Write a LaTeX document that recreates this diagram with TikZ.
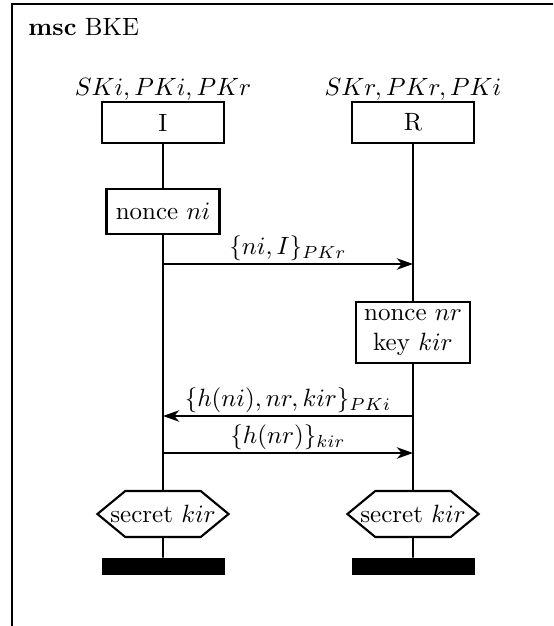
\documentclass[tikz,border=0pt]{standalone}
\usetikzlibrary{arrows.meta,shapes.symbols}
\tikzset{
  inst/.style={draw,line width=0.85pt,minimum width=48.8pt,minimum height=16.2pt,inner sep=0pt},
  action/.style={draw,line width=0.85pt,inner sep=0pt,align=center},
  cond/.style={draw,line width=0.85pt,signal,signal to=east and west,signal pointer angle=79,minimum width=52.4pt,minimum height=18.4pt,inner ysep=0pt,inner xsep=-6pt},
  stopbar/.style={fill=black,minimum width=49.2pt,minimum height=6.8pt,inner sep=0pt},
  life/.style={line width=0.7pt},
  msg/.style={line width=0.7pt,-{Stealth[length=6.5pt,width=4.6pt,inset=2pt]}},
  msglabel/.style={above,inner sep=1pt},
}
\begin{document}
\begin{tikzpicture}[x=0.4pt,y=-0.4pt]
\clip (0,0) rectangle (553,626);
\draw[line width=0.85pt] (12,4) rectangle (700,800);
\node[anchor=base west,inner sep=0pt] (title) at (28,36) {\textbf{msc} BKE};
\node (keysI) at (163,89) {$SKi, PKi, PKr$};
\node (keysR) at (413,89) {$SKr, PKr, PKi$};
\node[inst] (I) at (163,122.5) {I};
\node[inst] (R) at (413,122.5) {R};
\node[action,minimum width=45.2pt,minimum height=18pt] (nonceI) at (163,211.5) {nonce $ni$};
\node[action,minimum width=45.6pt,minimum height=24.4pt] (nonceR) at (413,332.5) {nonce $nr$\\key $kir$};
\node[cond] (secI) at (163,514) {secret $kir$};
\node[cond] (secR) at (413,514) {secret $kir$};
\node[stopbar] (endI) at (163,566.5) {};
\node[stopbar] (endR) at (413,566.5) {};
\draw[life] (I) -- (nonceI);
\draw[life] (nonceI) -- (secI);
\draw[life] (secI) -- (endI);
\draw[life] (R) -- (nonceR);
\draw[life] (nonceR) -- (secR);
\draw[life] (secR) -- (endR);
\coordinate (m1i) at (163,264);
\coordinate (m1r) at (413,264);
\coordinate (m2i) at (163,416);
\coordinate (m2r) at (413,416);
\coordinate (m3i) at (163,453);
\coordinate (m3r) at (413,453);
\draw[msg] (m1i) -- node[msglabel] {$\{ni, I\}_{PKr}$} (m1r);
\draw[msg] (m2r) -- node[msglabel] {$\{h(ni), nr, kir\}_{PKi}$} (m2i);
\draw[msg] (m3i) -- node[msglabel] {$\{h(nr)\}_{kir}$} (m3r);
\end{tikzpicture}
\end{document}
